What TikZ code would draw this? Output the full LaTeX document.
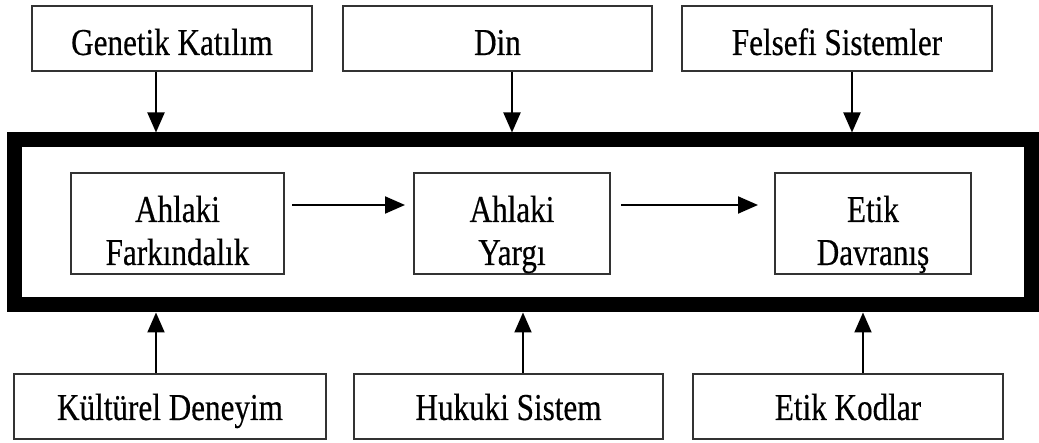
\documentclass[tikz,border=0pt]{standalone}
\usepackage{fontspec}
\setmainfont{Liberation Serif}[FakeStretch=0.82,FakeBold=0.4]
\usetikzlibrary{arrows.meta}
\begin{document}
\begin{tikzpicture}[x=1pt,y=-1pt,
  box/.style={draw=black!80, line width=2pt, fill=white, inner sep=0pt},
  outerbox/.style={box, minimum width=#1, minimum height=65pt},
  innerbox/.style={box, minimum width=#1, minimum height=101pt},
  frame/.style={draw=black, line width=15pt, inner sep=0pt,
    minimum width=1017pt, minimum height=165pt},
  lbl/.style={anchor=base, inner sep=0pt, font=\fontsize{38}{43}\selectfont},
  arr/.style={draw=black, line width=2pt, -{Triangle[length=20pt,width=17pt]}}]
\useasboundingbox (0,0) rectangle (1039,443);

% central frame holding the three stages
\node[frame] (frame) at (523,222.5) {};

% influences above the frame
\node[outerbox=280pt] (gk) at (172,38.5) {};
\node[outerbox=309pt] (din) at (497.5,38.5) {};
\node[outerbox=310pt] (fs) at (837,38.5) {};
\node[lbl] (gkt) at (172,55) {Genetik Katılım};
\node[lbl] (dint) at (497.5,55) {Din};
\node[lbl] (fst) at (837,55) {Felsefi Sistemler};

% influences below the frame
\node[outerbox=312pt] (kd) at (170,406.5) {};
\node[outerbox=309pt] (hs) at (508.5,406.5) {};
\node[outerbox=310pt] (ek) at (848,406.5) {};
\node[lbl] (kdt) at (170,420) {Kültürel Deneyim};
\node[lbl] (hst) at (508.5,420) {Hukuki Sistem};
\node[lbl] (ekt) at (848,420) {Etik Kodlar};

% the three stages
\node[innerbox=213pt] (af) at (177.5,223.5) {};
\node[innerbox=196pt] (ay) at (512,223.5) {};
\node[innerbox=196pt] (ed) at (873,223.5) {};
\node[lbl] (af1) at (177.5,222) {Ahlaki};
\node[lbl] (af2) at (177.5,265) {Farkındalık};
\node[lbl] (ay1) at (512,222) {Ahlaki};
\node[lbl] (ay2) at (512,265) {Yargı};
\node[lbl] (ed1) at (873,222) {Etik};
\node[lbl] (ed2) at (873,265) {Davranış};

% stage to stage
\draw[arr] ([xshift=7pt,yshift=18.5pt]af.east) -- ([xshift=-8pt,yshift=18.5pt]ay.west);
\draw[arr] ([xshift=10pt,yshift=18.5pt]ay.east) -- ([xshift=-16pt,yshift=18.5pt]ed.west);

% influences into the frame
\draw[arr] ([xshift=-16pt]gk.south) -- ([xshift=-16pt]gk.south |- frame.north);
\draw[arr] ([xshift=14.5pt]din.south) -- ([xshift=14.5pt]din.south |- frame.north);
\draw[arr] ([xshift=15pt]fs.south) -- ([xshift=15pt]fs.south |- frame.north);
\draw[arr] ([xshift=-14pt]kd.north) -- ([xshift=-14pt]kd.north |- frame.south);
\draw[arr] ([xshift=14.5pt]hs.north) -- ([xshift=14.5pt]hs.north |- frame.south);
\draw[arr] ([xshift=15pt]ek.north) -- ([xshift=15pt]ek.north |- frame.south);
\end{tikzpicture}
\end{document}
